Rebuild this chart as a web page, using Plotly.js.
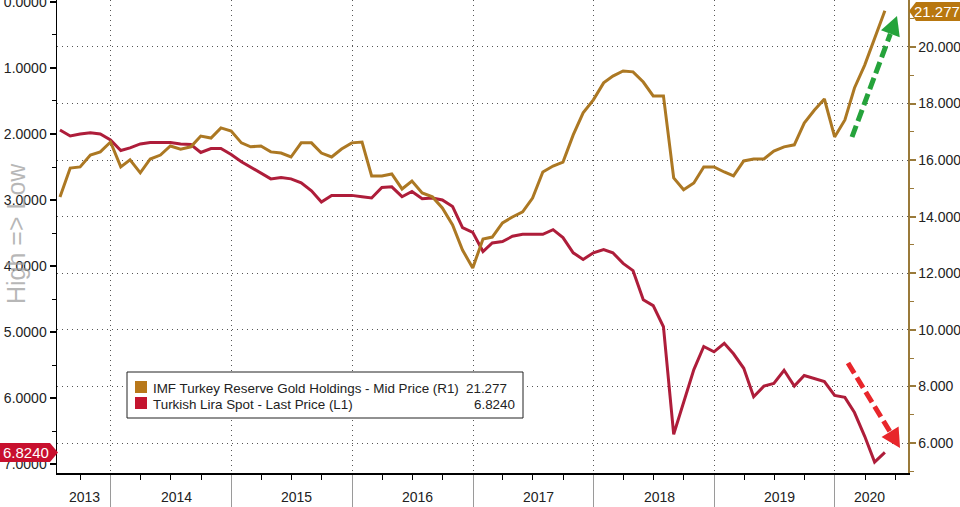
<!DOCTYPE html>
<html>
<head>
<meta charset="utf-8">
<script src="https://cdn.plot.ly/plotly-3.0.1.min.js"></script>
<style>
  html, body { margin: 0; padding: 0; background: #fff; }
  #chart { width: 960px; height: 507px; }
</style>
</head>
<body>
<div id="chart"></div>
<script>
// first month of both series, monthly (month-end) observations
const startYear = 2013;
const startMonth = 7;

// Turkish Lira spot, USD/TRY (left axis, inverted)
const liraSpot = [
    1.94, 2.03, 2.00, 1.98, 2.00, 2.09,
    2.25, 2.21, 2.15, 2.13, 2.13, 2.13, 2.15, 2.16, 2.28, 2.22, 2.22, 2.31,
    2.42, 2.50, 2.59, 2.68, 2.66, 2.68, 2.74, 2.86, 3.03, 2.93, 2.93, 2.93,
    2.95, 2.97, 2.81, 2.80, 2.95, 2.87, 2.98, 2.97, 3.00, 3.10, 3.42, 3.49,
    3.78, 3.65, 3.63, 3.55, 3.52, 3.52, 3.52, 3.45, 3.57, 3.80, 3.90, 3.80,
    3.75, 3.80, 3.96, 4.07, 4.51, 4.60, 4.92, 6.55, 6.07, 5.57, 5.22, 5.30,
    5.17, 5.33, 5.55, 5.98, 5.82, 5.78, 5.58, 5.82, 5.66, 5.70, 5.75, 5.96,
    5.99, 6.22, 6.58, 6.97, 6.824
];

// IMF Turkey reserve gold holdings (right axis)
const goldHoldings = [
    14.70, 15.72, 15.76, 16.18, 16.29, 16.64,
    15.76, 16.01, 15.55, 16.04, 16.18, 16.50, 16.39, 16.47, 16.85, 16.78, 17.14, 17.03,
    16.61, 16.47, 16.50, 16.29, 16.25, 16.11, 16.61, 16.61, 16.25, 16.11, 16.39, 16.61,
    16.64, 15.44, 15.44, 15.51, 14.98, 15.26, 14.84, 14.70, 14.31, 13.71, 12.82, 12.19,
    13.21, 13.28, 13.78, 13.99, 14.17, 14.66, 15.58, 15.79, 15.93, 16.89, 17.67, 18.13,
    18.73, 18.97, 19.15, 19.12, 18.76, 18.27, 18.27, 15.37, 14.95, 15.19, 15.76, 15.76,
    15.58, 15.44, 15.97, 16.04, 16.04, 16.32, 16.47, 16.54, 17.31, 17.77, 18.16, 16.82,
    17.42, 18.55, 19.36, 20.32, 21.277
];

// x axis labels
const yearLabels = ['2013', '2014', '2015', '2016', '2017', '2018', '2019', '2020'];
const yearLabelDates = ['2013-10-12', '2014-07-18', '2015-07-18', '2016-07-18',
                        '2017-07-18', '2018-07-18', '2019-07-18', '2020-04-15'];
const yearStarts = ['2014-01-01', '2015-01-01', '2016-01-01', '2017-01-01',
                    '2018-01-01', '2019-01-01', '2020-01-01'];

const legendNames = ['IMF Turkey Reserve Gold Holdings - Mid Price (R1)', 'Turkish Lira Spot - Last Price (L1)'];
const legendValues = ['21.277', '6.8240'];

const GOLD = '#ac7823';
const RED = '#ae1d3a';
const FONT = 'Liberation Sans, Arial, sans-serif';

// month-end dates
const dates = [];
for (let i = 0; i < liraSpot.length; i++) {
    const d = new Date(Date.UTC(startYear, startMonth - 1 + i + 1, 0));
    dates.push(d.toISOString().slice(0, 10));
}

// plot area in pixels, used for decorations
const L = 57, R = 908, T = 0, B = 473;
const px = x => (x - L) / (R - L);
const py = y => (B - y) / (B - T);
const pathOf = pts => 'M' + pts.map(p => px(p[0]) + ',' + py(p[1])).join(' L') + ' Z';

// dashed arrow: shaft + triangle head
function arrow(x0, y0, x1, y1, color) {
    const dx = x1 - x0, dy = y1 - y0;
    const len = Math.sqrt(dx * dx + dy * dy);
    const ux = dx / len, uy = dy / len;
    const hl = 19, hw = 10;
    const bx = x1 - ux * hl, by = y1 - uy * hl;
    return [
        {
            type: 'line', xref: 'paper', yref: 'paper',
            x0: px(x0), y0: py(y0), x1: px(bx), y1: py(by),
            line: { color: color, width: 5, dash: '12px,5px' }
        },
        {
            type: 'path', xref: 'paper', yref: 'paper',
            path: pathOf([[x1, y1], [bx - uy * hw, by + ux * hw], [bx + uy * hw, by - ux * hw]]),
            fillcolor: color, line: { width: 0 }
        }
    ];
}

// text placed in pixel terms, always centred on its anchor
function label(x, y, text, xanchor, size, color, extra) {
    return Object.assign({
        xref: 'paper', yref: 'paper', x: px(x), y: py(y),
        xanchor: xanchor, yanchor: 'middle',
        text: text, showarrow: false,
        font: { family: FONT, size: size, color: color }
    }, extra || {});
}

const traces = [
    {
        x: dates, y: goldHoldings, yaxis: 'y2', type: 'scatter', mode: 'lines',
        line: { color: GOLD, width: 3 }, showlegend: false, hoverinfo: 'x+y'
    },
    {
        x: dates, y: liraSpot, yaxis: 'y', type: 'scatter', mode: 'lines',
        line: { color: RED, width: 3 }, showlegend: false, hoverinfo: 'x+y'
    }
];

const shapes = [
    // legend box
    {
        type: 'rect', xref: 'paper', yref: 'paper',
        x0: px(127), y0: py(372), x1: px(523), y1: py(418),
        fillcolor: '#ffffff', line: { color: '#222', width: 1 }
    },
    {
        type: 'rect', xref: 'paper', yref: 'paper',
        x0: px(135), y0: py(381), x1: px(147), y1: py(393),
        fillcolor: '#b8781a', line: { width: 0 }
    },
    {
        type: 'rect', xref: 'paper', yref: 'paper',
        x0: px(135), y0: py(397), x1: px(147), y1: py(409),
        fillcolor: '#c4142f', line: { width: 0 }
    },
    // last value tags
    {
        type: 'path', xref: 'paper', yref: 'paper',
        path: pathOf([[909, 11], [916, 2], [960, 2], [960, 21], [916, 21]]),
        fillcolor: '#b8770f', line: { width: 0 }
    },
    {
        type: 'path', xref: 'paper', yref: 'paper',
        path: pathOf([[0, 443], [50, 443], [58, 452.5], [50, 462], [0, 462]]),
        fillcolor: '#c8102e', line: { width: 0 }
    }
].concat(arrow(852, 137, 897, 16, '#25a33b'), arrow(848, 363, 900, 448, '#e8262b'));

const annotations = [
    label(16, 234, 'High => Low', 'center', 25, 'rgba(160,160,160,0.75)', { textangle: -90 }),
    label(151, 388, legendNames[0], 'left', 13.4, '#222'),
    label(151, 404, legendNames[1], 'left', 13.4, '#222'),
    label(509, 388, legendValues[0], 'right', 13.4, '#222'),
    label(517, 404, legendValues[1], 'right', 13.4, '#222'),
    label(937, 11.5, legendValues[0], 'center', 15, '#fff'),
    label(26, 452.5, legendValues[1], 'center', 15, '#fff')
];

// year labels under the axis
for (let i = 0; i < yearLabels.length; i++) {
    annotations.push({
        xref: 'x', yref: 'paper', x: yearLabelDates[i], y: py(497),
        xanchor: 'center', yanchor: 'middle',
        text: yearLabels[i], showarrow: false,
        font: { family: FONT, size: 14, color: '#222' }
    });
}

const layout = {
    width: 960,
    height: 507,
    margin: { l: L, r: 960 - R, t: T, b: 507 - B },
    paper_bgcolor: '#ffffff',
    plot_bgcolor: '#ffffff',
    font: { family: FONT, size: 14, color: '#222' },
    showlegend: false,
    xaxis: {
        type: 'date',
        range: ['2013-07-22', '2020-08-09'],
        tickvals: yearStarts,
        showticklabels: false,
        ticks: 'outside',
        ticklen: 34,
        tickwidth: 1,
        tickcolor: '#9a9a9a',
        showgrid: true,
        gridcolor: '#555',
        griddash: '1px,4px',
        showline: true,
        linecolor: '#000',
        linewidth: 1.5,
        zeroline: false,
        minor: {
            ticks: 'outside', ticklen: 5, tickwidth: 1, tickcolor: '#000',
            dtick: 'M3', tick0: '2013-01-01', showgrid: false
        }
    },
    yaxis: {
        range: [7.136, -0.03],
        tick0: 0,
        dtick: 1,
        tickformat: '.4f',
        ticks: 'outside',
        ticklen: 6,
        tickwidth: 2,
        tickcolor: '#000',
        ticklabeloverflow: 'allow',
        showgrid: false,
        showline: true,
        linecolor: '#000',
        linewidth: 1.5,
        zeroline: false,
        tickfont: { family: FONT, size: 14, color: '#222' },
        minor: { ticks: 'outside', dtick: 0.5, ticklen: 4, tickwidth: 1, tickcolor: '#000', showgrid: false }
    },
    yaxis2: {
        overlaying: 'y',
        side: 'right',
        range: [4.94, 21.66],
        tick0: 0,
        dtick: 2,
        tickformat: '.3f',
        ticks: 'outside',
        ticklen: 6,
        tickwidth: 2,
        tickcolor: '#9a7a3a',
        showgrid: true,
        gridcolor: '#555',
        griddash: '1px,4px',
        showline: true,
        linecolor: '#9a7a3a',
        linewidth: 1.5,
        zeroline: false,
        tickfont: { family: FONT, size: 14, color: '#222' },
        minor: { ticks: 'outside', dtick: 1, ticklen: 4, tickwidth: 1, tickcolor: '#9a7a3a', showgrid: false }
    },
    shapes: shapes,
    annotations: annotations
};

Plotly.newPlot('chart', traces, layout, { displayModeBar: false, staticPlot: true });
</script>
</body>
</html>
